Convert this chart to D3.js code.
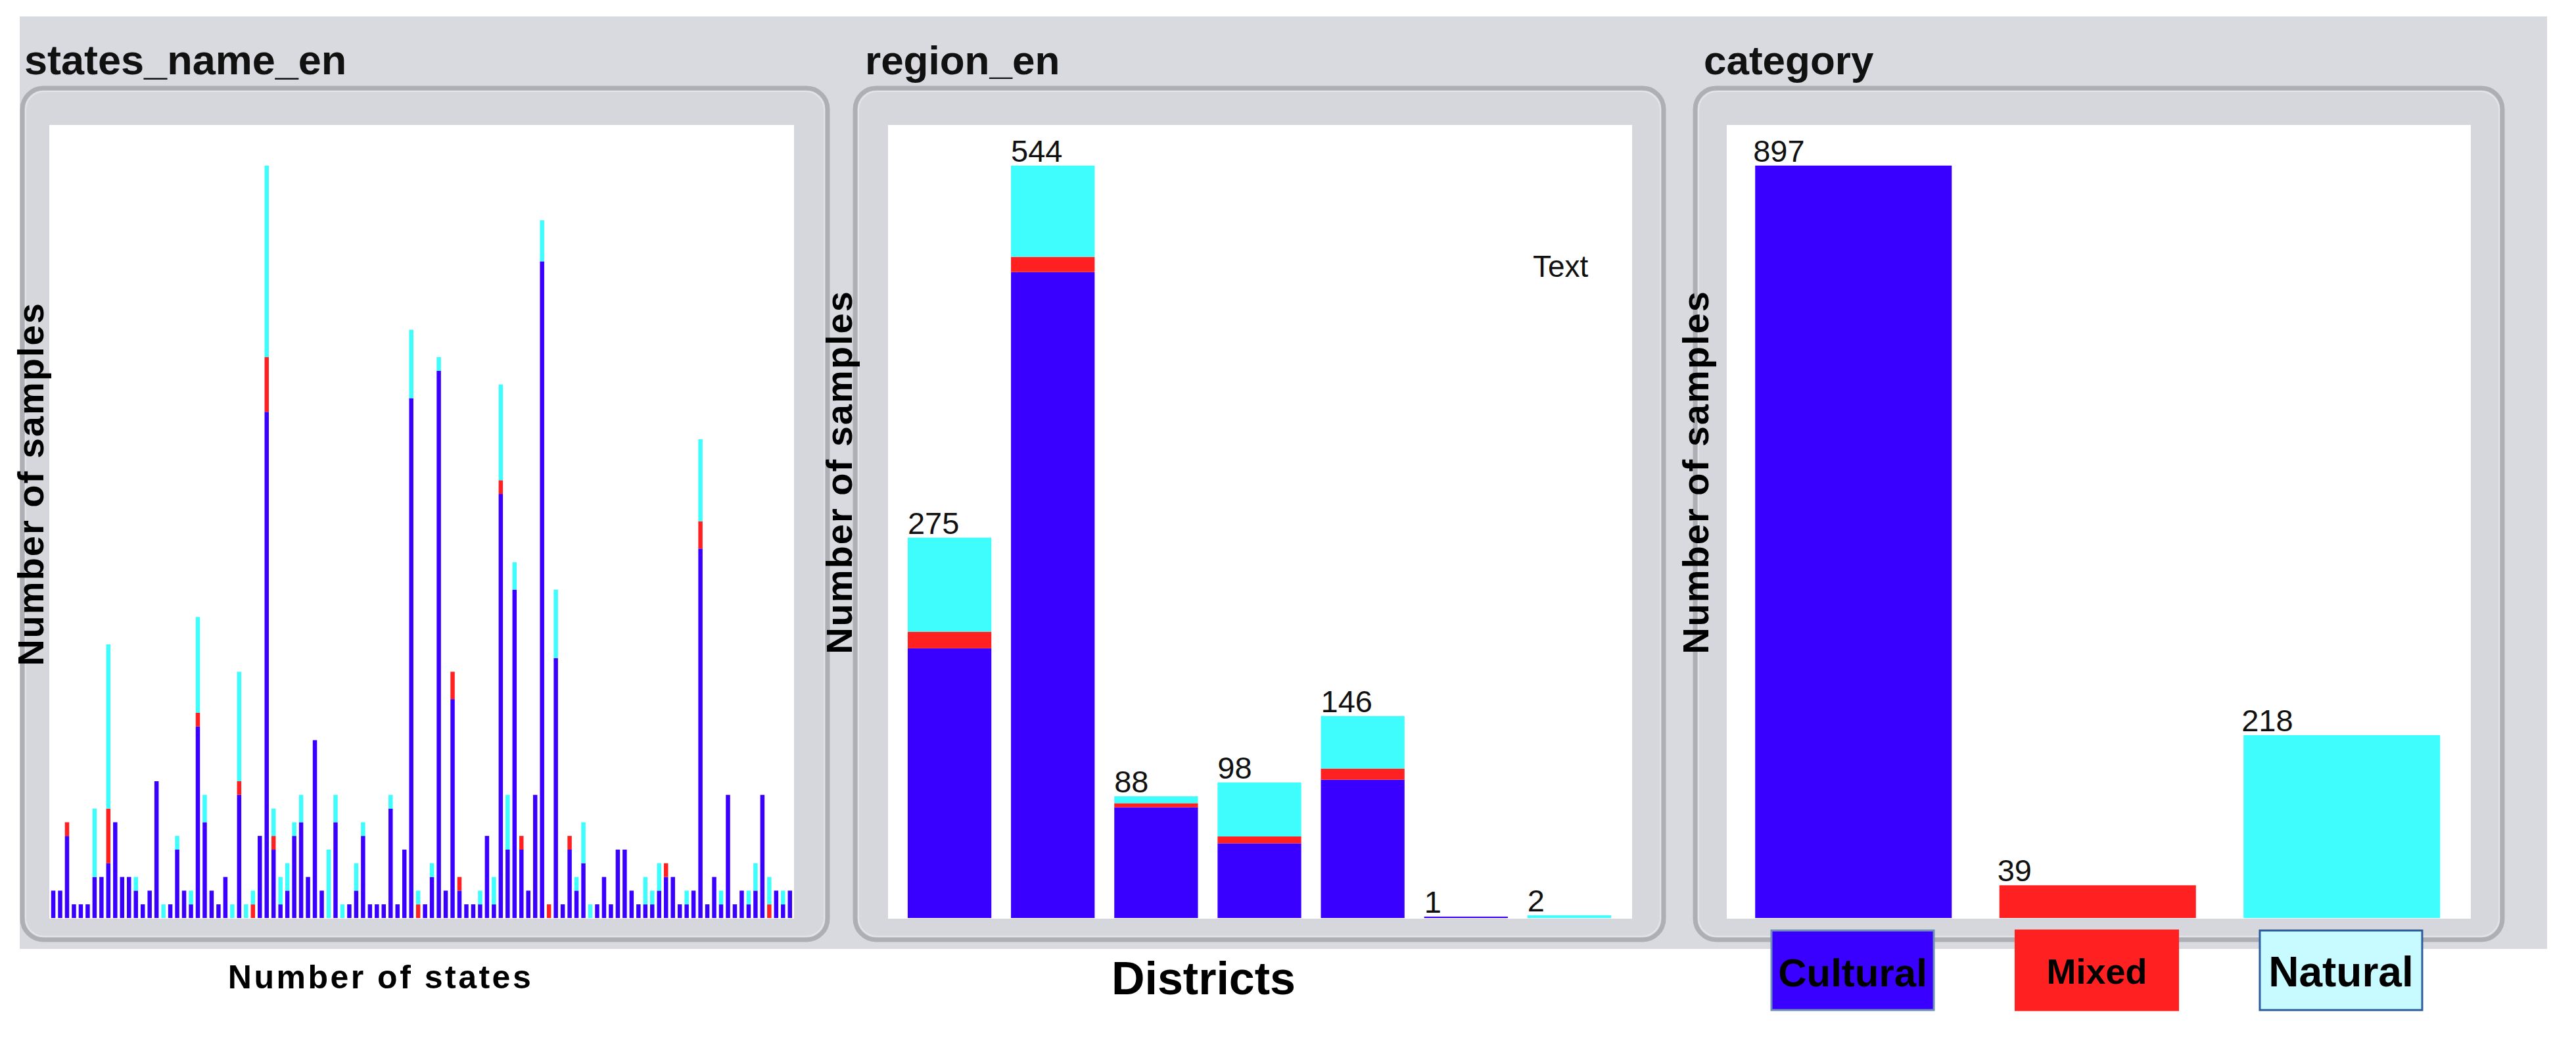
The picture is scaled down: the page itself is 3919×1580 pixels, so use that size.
<!DOCTYPE html>
<html>
<head>
<meta charset="utf-8">
<script src="https://cdn.jsdelivr.net/npm/d3@7"></script>
<style>
  html, body { margin: 0; padding: 0; background: #ffffff; }
  svg text { font-family: "Liberation Sans", Arial, sans-serif; }
</style>
</head>
<body>
<svg id="chart" width="3919" height="1580"></svg>
<script>
// ---------------- DATA ----------------
const seriesKeys = ["Cultural", "Mixed", "Natural"];

// states_name_en panel (108 states, in drawing order)
const stateCultural = [2,2,6,1,1,1,3,3,4,7, 3,3,2,1,2,10,0,1,5,2, 1,14,7,2,1,3,0,9,0,0,
  6,37,5,1,2,6,7,3,13,2, 0,7,0,1,2,6,1,1,1,8, 1,5,38,0,1,3,40,2,16,2,
  1,1,1,6,1,31,5,24,5,2, 9,48,0,19,1,5,2,4,0,1, 3,1,5,5,2,1,1,1,2,3,
  3,1,1,2,27,1,3,1,9,1, 2,1,2,9,0,2,1,2];
const stateMixed = [0,0,1,0,0,0,0,0,4,0, 0,0,0,0,0,0,0,0,0,0, 0,1,0,0,0,0,0,1,0,1,
  0,4,1,0,0,0,0,0,0,0, 0,0,0,0,0,0,0,0,0,0, 0,0,0,1,0,0,0,0,2,1,
  0,0,0,0,0,1,0,0,1,0, 0,0,1,0,0,1,0,0,0,0, 0,0,0,0,0,0,0,0,0,1,
  0,0,0,0,2,0,0,0,0,0, 0,0,0,0,1,0,0,0];
const stateNatural = [0,0,0,0,0,0,5,0,12,0, 0,0,1,0,0,0,1,0,1,0, 1,7,2,0,0,0,1,8,1,1,
  0,14,2,2,2,1,2,0,0,0, 5,2,1,0,2,1,0,0,0,1, 0,0,5,1,0,1,1,0,0,0,
  0,0,1,0,2,7,4,2,0,0, 0,3,0,5,0,0,1,3,1,0, 0,0,0,0,0,0,2,1,2,0,
  0,0,1,0,6,0,0,1,0,0, 0,1,2,0,2,0,1,0];

// region_en panel
const regionNames = ["Asia and the Pacific", "Europe and North America", "Arab States", "Africa",
  "Latin America and the Caribbean", "Other region A", "Other region B"];
const regionCultural = [195, 467, 80, 54, 100, 1, 0];
const regionMixed    = [12, 11, 3, 5, 8, 0, 0];
const regionNatural  = [68, 66, 5, 39, 38, 0, 2];

// category panel
const categoryNames  = ["Cultural", "Mixed", "Natural"];
const categoryValues = [897, 39, 218];

// ---------------- STYLE ----------------
const colors = { Cultural: "#3a00ff", Mixed: "#ff2121", Natural: "#3ffdfd" };
const legendFill = { Cultural: "#3a00ff", Mixed: "#ff2121", Natural: "#c8fbff" };
const legendStroke = { Cultural: "#6f8fb8", Mixed: "#ff2121", Natural: "#2d5c9c" };

const svg = d3.select("#chart");

// overall gray background
svg.append("rect").attr("x", 30).attr("y", 25).attr("width", 3845).attr("height", 1418)
  .attr("fill", "#d8dadf");

const plotTop = 190, plotBottom = 1396;

const panels = [
  { title: "states_name_en", titleX: 37, titleSize: 63, frameX: 31, frameW: 1231, plotX0: 75, plotX1: 1208,
    band: [75.8, 1207], padIn: 0.38, padOut: 0.19, yTitleX: 66, yTitleY: 736 },
  { title: "region_en", titleX: 1316, titleSize: 62, frameX: 1298, frameW: 1236, plotX0: 1351, plotX1: 2483,
    band: [1366, 2466], padIn: 0.19, padOut: 0.095, yTitleX: 1296, yTitleY: 718 },
  { title: "category", titleX: 2592, titleSize: 62, frameX: 2576, frameW: 1234, plotX0: 2627, plotX1: 3759,
    band: [2634, 3748.5], padIn: 0.195, padOut: 0.0975, yTitleX: 2599, yTitleY: 718 }
];

panels.forEach(p => {
  // title
  svg.append("text").attr("x", p.titleX).attr("y", 113)
    .attr("font-size", p.titleSize).attr("font-weight", "bold").attr("fill", "#111")
    .text(p.title);
  // frame (rounded, bevelled)
  svg.append("rect").attr("x", p.frameX + 3).attr("y", 134).attr("width", p.frameW - 6).attr("height", 1295)
    .attr("rx", 32).attr("fill", "#d5d7dc").attr("stroke", "#adafb5").attr("stroke-width", 7);
  svg.append("rect").attr("x", p.frameX + 8).attr("y", 139).attr("width", p.frameW - 16).attr("height", 1285)
    .attr("rx", 28).attr("fill", "none").attr("stroke", "#e2e4e8").attr("stroke-width", 2);
  // white plot area
  svg.append("rect").attr("x", p.plotX0).attr("y", plotTop)
    .attr("width", p.plotX1 - p.plotX0).attr("height", plotBottom - plotTop + 1)
    .attr("fill", "#ffffff");
  // y title
  svg.append("text")
    .attr("transform", `translate(${p.yTitleX},${p.yTitleY}) rotate(-90)`)
    .attr("text-anchor", "middle").attr("font-size", 56).attr("font-weight", "bold")
    .attr("letter-spacing", 2).attr("fill", "#000")
    .text("Number of samples");
});

const stack = d3.stack().keys(seriesKeys);

// ---------- Panel 1: states ----------
{
  const p = panels[0];
  const ids = stateCultural.map((_, i) => i);
  const rows = ids.map(i => ({ id: i, Cultural: stateCultural[i], Mixed: stateMixed[i], Natural: stateNatural[i] }));
  const totals = rows.map(r => r.Cultural + r.Mixed + r.Natural);
  const x = d3.scaleBand().domain(ids).range(p.band).paddingInner(p.padIn).paddingOuter(p.padOut);
  const y = d3.scaleLinear().domain([0, d3.max(totals) * 1.054]).range([plotBottom, plotTop]);
  const g = svg.append("g");
  g.selectAll("g.s").data(stack(rows)).join("g").attr("fill", d => colors[d.key])
    .selectAll("rect").data(d => d).join("rect")
    .attr("x", d => x(d.data.id)).attr("width", x.bandwidth())
    .attr("y", d => y(d[1])).attr("height", d => y(d[0]) - y(d[1]));
  svg.append("text").attr("x", 579).attr("y", 1503).attr("text-anchor", "middle")
    .attr("font-size", 50).attr("font-weight", "bold").attr("letter-spacing", 3.5)
    .text("Number of states");
}

// ---------- Panel 2: regions ----------
{
  const p = panels[1];
  const rows = regionNames.map((n, i) => ({ id: n, Cultural: regionCultural[i], Mixed: regionMixed[i], Natural: regionNatural[i] }));
  const totals = rows.map(r => r.Cultural + r.Mixed + r.Natural);
  const x = d3.scaleBand().domain(regionNames).range(p.band).paddingInner(p.padIn).paddingOuter(p.padOut);
  const y = d3.scaleLinear().domain([0, d3.max(totals) * 1.054]).range([plotBottom, plotTop]);
  const g = svg.append("g");
  g.selectAll("g.s").data(stack(rows)).join("g").attr("fill", d => colors[d.key])
    .selectAll("rect").data(d => d).join("rect")
    .attr("x", d => x(d.data.id)).attr("width", x.bandwidth())
    .attr("y", d => y(d[1])).attr("height", d => y(d[0]) - y(d[1]));
  g.selectAll("text.v").data(rows).join("text")
    .attr("x", (d) => x(d.id)).attr("y", (d, i) => y(totals[i]) - 6)
    .attr("font-size", 47).attr("fill", "#111")
    .text((d, i) => totals[i]);
  svg.append("text").attr("x", 2332).attr("y", 421).attr("font-size", 46).attr("fill", "#111").text("Text");
  svg.append("text").attr("x", 1831).attr("y", 1512).attr("text-anchor", "middle")
    .attr("font-size", 70).attr("font-weight", "bold").text("Districts");
}

// ---------- Panel 3: category ----------
{
  const p = panels[2];
  const x = d3.scaleBand().domain(categoryNames).range(p.band).paddingInner(p.padIn).paddingOuter(p.padOut);
  const y = d3.scaleLinear().domain([0, d3.max(categoryValues) * 1.054]).range([plotBottom, plotTop]);
  const g = svg.append("g");
  g.selectAll("rect").data(categoryNames).join("rect")
    .attr("x", d => x(d)).attr("width", x.bandwidth())
    .attr("y", (d, i) => y(categoryValues[i])).attr("height", (d, i) => y(0) - y(categoryValues[i]))
    .attr("fill", d => colors[d]);
  g.selectAll("text").data(categoryNames).join("text")
    .attr("x", d => x(d) - 3).attr("y", (d, i) => y(categoryValues[i]) - 6)
    .attr("font-size", 47).attr("fill", "#111")
    .text((d, i) => categoryValues[i]);

  // legend buttons
  const lx = d3.scaleBand().domain(categoryNames).range([2630, 3750]).paddingInner(0.335).paddingOuter(0.175);
  const fs = { Cultural: 60, Mixed: 54, Natural: 64 };
  const lg = svg.append("g");
  lg.selectAll("rect").data(categoryNames).join("rect")
    .attr("x", d => lx(d)).attr("y", 1415).attr("width", lx.bandwidth()).attr("height", 121)
    .attr("fill", d => legendFill[d]).attr("stroke", d => legendStroke[d]).attr("stroke-width", 3);
  lg.selectAll("text").data(categoryNames).join("text")
    .attr("x", d => lx(d) + lx.bandwidth() / 2).attr("y", d => d === "Mixed" ? 1496 : 1500)
    .attr("text-anchor", "middle").attr("font-size", d => fs[d]).attr("font-weight", "bold")
    .attr("fill", "#000").text(d => d);
}
</script>
</body>
</html>
